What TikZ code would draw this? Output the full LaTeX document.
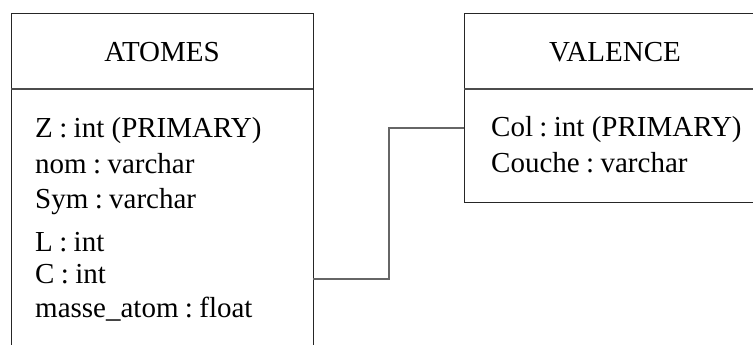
\documentclass[tikz,border=0pt]{standalone}
\usepackage{fontspec}
\setmainfont{Liberation Serif}
\newcommand{\sep}{\hspace{0.22em}:\hspace{0.22em}}
\begin{document}
\begin{tikzpicture}[x=1pt,y=-1pt,
  table/.style={draw=black!85, line width=1pt, inner sep=0pt, outer sep=0pt},
  rule/.style={draw=black!70, line width=1.2pt},
  link/.style={draw=black!60, line width=1.2pt},
  title/.style={anchor=base, inner sep=0pt, font=\fontsize{29}{33}\selectfont},
  field/.style={anchor=base west, inner sep=0pt, font=\fontsize{29}{33}\selectfont}]
  \useasboundingbox (0,0) rectangle (753,345);
  \clip (0,0) rectangle (753,345);

  % table ATOMES (runs past the bottom edge)
  \node[table, minimum width=302pt, minimum height=351pt] (atomes) at (162,189.5) {};
  \draw[rule] (11,89) -- (313,89);
  \node[title] (atomesT) at (162,62) {ATOMES};
  \node[field] (a1) at (35,137) {Z\sep int (PRIMARY)};
  \node[field] (a2) at (35,173) {nom\sep varchar};
  \node[field] (a3) at (35,208) {Sym\sep varchar};
  \node[field] (a4) at (35,251) {L\sep int};
  \node[field] (a5) at (35,283) {C\sep int};
  \node[field] (a6) at (35,317) {masse\_atom\sep float};

  % table VALENCE (runs past the right edge)
  \node[table, minimum width=306pt, minimum height=188pt] (valence) at (617,108) {};
  \draw[rule] (464,89) -- (770,89);
  \node[title] (valenceT) at (615,62) {VALENCE};
  \node[field] (v1) at (491,136) {Col\sep int (PRIMARY)};
  \node[field] (v2) at (491,172) {Couche\sep varchar};

  % relation between the two tables
  \coordinate (bend) at (389,279);
  \draw[link] (atomes.east |- bend) -- (bend) |- (valence.west |- 0,128);
\end{tikzpicture}
\end{document}
